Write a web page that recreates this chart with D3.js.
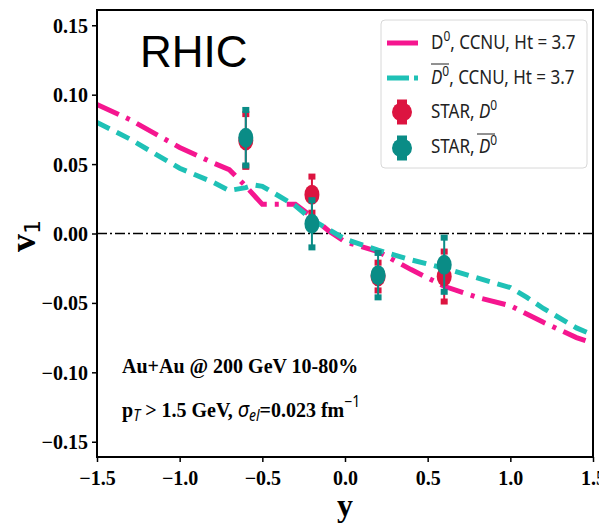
<!DOCTYPE html>
<html><head><meta charset="utf-8">
<script src="https://cdn.jsdelivr.net/npm/d3@7"></script>
<style>body{margin:0;background:#fff}svg{display:block}</style>
</head><body>
<svg id="c" width="599" height="526"></svg>
<script>
// ---- data ----
const xTicks = [-1.5,-1.0,-0.5,0.0,0.5,1.0,1.5];
const yTicks = [-0.15,-0.10,-0.05,0.00,0.05,0.10,0.15];
const d0ModelX = [-1.5,-1.3,-1.0,-0.8,-0.7,-0.6,-0.5,-0.4,-0.3,-0.2,-0.1,0.0,0.2,0.4,0.6,0.8,1.0,1.2,1.4,1.5];
const d0ModelV = [0.093,0.082,0.062,0.051,0.046,0.034,0.021,0.021,0.021,0.012,0.002,-0.006,-0.013,-0.026,-0.038,-0.046,-0.052,-0.064,-0.075,-0.079];
const d0barModelX = [-1.5,-1.3,-1.0,-0.8,-0.7,-0.6,-0.55,-0.5,-0.4,-0.3,-0.2,-0.1,0.0,0.2,0.4,0.6,0.8,1.0,1.1,1.2,1.4,1.5];
const d0barModelV = [0.080,0.068,0.047,0.037,0.031,0.033,0.035,0.034,0.027,0.020,0.010,0.003,-0.004,-0.012,-0.019,-0.025,-0.032,-0.039,-0.046,-0.054,-0.068,-0.073];
const starX = [-0.6,-0.2,0.2,0.6];
const starD0 = [0.067,0.028,-0.031,-0.031];
const starD0Err = [0.019,0.013,0.010,0.018];
const starD0bar = [0.069,0.007,-0.030,-0.0225];
const starD0barErr = [0.020,0.017,0.016,0.0195];

const pink = "#f5168f", teal = "#1fc1b6", red = "#dc1440", dteal = "#0a8c86";

const svg = d3.select("#c");
const L=97,R=593,T=10,B=457;
const x = d3.scaleLinear([-1.5,1.5],[L,R]);
const y = d3.scaleLinear([-0.161,0.161],[B,T]);
const serif = "'Liberation Serif','Times New Roman',serif";
const sans = "'Noto Sans','Open Sans',sans-serif";

// axes
const xa = svg.append("g").attr("transform",`translate(0,${B})`)
  .call(d3.axisBottom(x).tickValues(xTicks).tickSize(5).tickPadding(4)
    .tickFormat(d=>d3.format(".1f")(d).replace("-","\u2212")));
const ya = svg.append("g").attr("transform",`translate(${L},0)`)
  .call(d3.axisLeft(y).tickValues(yTicks).tickSize(5).tickPadding(4)
    .tickFormat(d=>d3.format(".2f")(d).replace("-","\u2212")));
[xa,ya].forEach(g=>{
  g.select(".domain").remove();
  g.selectAll("line").attr("stroke","#000").attr("stroke-width",1.5);
  g.selectAll("text").attr("font-family",serif).attr("font-weight","bold").attr("font-size",20).attr("fill","#000");
});
xa.selectAll("text").attr("dy","0.95em");
ya.selectAll("text").attr("dy","0.35em");

// zero line
svg.append("line").attr("x1",x(-1.5)).attr("x2",x(1.5)).attr("y1",y(0)).attr("y2",y(0))
  .attr("stroke","#000").attr("stroke-width",1.6).attr("stroke-dasharray","10,3,2,3");

svg.append("clipPath").attr("id","cp").append("rect")
  .attr("x",L).attr("y",T).attr("width",R-L).attr("height",B-T);

const line = d3.line().x(d=>x(d[0])).y(d=>y(d[1]));
const pg = svg.append("g").attr("clip-path","url(#cp)");
pg.append("path").datum(d0ModelX.map((v,i)=>[v,d0ModelV[i]])).attr("d",line)
  .attr("fill","none").attr("stroke",pink).attr("stroke-width",5).attr("stroke-dasharray","24,8,4,8");
pg.append("path").datum(d0barModelX.map((v,i)=>[v,d0barModelV[i]])).attr("d",line)
  .attr("fill","none").attr("stroke",teal).attr("stroke-width",5).attr("stroke-dasharray","14,8");

function drawPoints(vals, errs, col){
  const g = svg.append("g");
  starX.forEach((sx,i)=>{
    const cx=x(sx), cy=y(vals[i]), y1=y(vals[i]+errs[i]), y2=y(vals[i]-errs[i]);
    g.append("line").attr("x1",cx).attr("x2",cx).attr("y1",y1).attr("y2",y2).attr("stroke",col).attr("stroke-width",2);
    [y1,y2].forEach(yy=>g.append("rect").attr("x",cx-3.5).attr("y",yy-3).attr("width",7).attr("height",6).attr("fill",col));
    g.append("ellipse").attr("cx",cx).attr("cy",cy).attr("rx",7.5).attr("ry",10).attr("fill",col);
  });
}
drawPoints(starD0, starD0Err, red);
drawPoints(starD0bar, starD0barErr, dteal);

// frame
svg.append("rect").attr("x",L).attr("y",T).attr("width",R-L).attr("height",B-T)
  .attr("fill","none").attr("stroke","#000").attr("stroke-width",2);

// RHIC
svg.append("text").attr("x",140).attr("y",67).attr("font-family","'Liberation Sans',Arial,sans-serif")
  .attr("font-size",44).attr("fill","#000").text("RHIC");

// legend
const lg = svg.append("g");
lg.append("rect").attr("x",381).attr("y",20).attr("width",206).attr("height",148).attr("rx",4)
  .attr("fill","#fff").attr("stroke","#d8d8d8").attr("stroke-width",1);
lg.append("line").attr("x1",387).attr("x2",418).attr("y1",43).attr("y2",43)
  .attr("stroke",pink).attr("stroke-width",5);
lg.append("line").attr("x1",387).attr("x2",418).attr("y1",78).attr("y2",78)
  .attr("stroke",teal).attr("stroke-width",5).attr("stroke-dasharray","22,5,4,8");
[[112,red],[148,dteal]].forEach(([cy,col])=>{
  lg.append("rect").attr("x",397).attr("y",cy-12.5).attr("width",10).attr("height",25).attr("fill",col);
  lg.append("ellipse").attr("cx",402).attr("cy",cy).attr("rx",10).attr("ry",9.5).attr("fill",col);
});
function legText(yb, build){
  const t = lg.append("text").attr("transform",`translate(431,${yb}) scale(1,1.15)`)
    .attr("font-family",sans).attr("font-size",17).attr("fill","#222");
  build(t);
  return t;
}
legText(49,t=>{t.append("tspan").text("D");t.append("tspan").attr("font-size",12).attr("dy",-7).text("0");
  t.append("tspan").attr("dy",7).text(", CCNU, Ht = 3.7");});
legText(84,t=>{t.append("tspan").attr("font-style","italic").text("D");t.append("tspan").attr("font-size",12).attr("dy",-7).text("0");
  t.append("tspan").attr("dy",7).text(", CCNU, Ht = 3.7");});
lg.append("line").attr("x1",431).attr("x2",449).attr("y1",64).attr("y2",64).attr("stroke","#222").attr("stroke-width",1);
legText(118,t=>{t.append("tspan").text("STAR, ");t.append("tspan").attr("font-style","italic").text("D");
  t.append("tspan").attr("font-size",12).attr("dy",-7).text("0");});
legText(153,t=>{t.append("tspan").text("STAR, ");t.append("tspan").attr("font-style","italic").text("D");
  t.append("tspan").attr("font-size",12).attr("dy",-7).text("0");});
lg.append("line").attr("x1",477).attr("x2",495).attr("y1",134).attr("y2",134).attr("stroke","#222").attr("stroke-width",1);

// annotations
svg.append("text").attr("transform","translate(122,373) scale(1,1.1)")
  .attr("font-family",serif).attr("font-weight","bold").attr("font-size",20).attr("fill","#000")
  .text("Au+Au @ 200 GeV 10-80%");
const a2 = svg.append("text").attr("transform","translate(122,417) scale(1,1.1)")
  .attr("font-family",serif).attr("font-weight","bold").attr("font-size",20).attr("fill","#000");
a2.append("tspan").text("p");
a2.append("tspan").attr("font-family",sans).attr("font-style","italic").attr("font-weight","normal").attr("font-size",14).attr("dy",4).text("T");
a2.append("tspan").attr("dy",-4).text(" > 1.5 GeV, ");
a2.append("tspan").attr("font-family",sans).attr("font-style","italic").attr("font-weight","normal").text("σ");
a2.append("tspan").attr("font-family",sans).attr("font-style","italic").attr("font-weight","normal").attr("font-size",14).attr("dy",4).text("el");
a2.append("tspan").attr("dy",-4).text("=0.023 fm");
a2.append("tspan").attr("font-family",sans).attr("font-weight","normal").attr("font-size",14).attr("dy",-9).text("\u22121");

// axis titles
const yl = svg.append("text").attr("transform","translate(35,236) rotate(-90)").attr("text-anchor","middle")
  .attr("font-family",serif).attr("font-weight","bold").attr("font-size",36).attr("fill","#000");
yl.append("tspan").text("v");
yl.append("tspan").attr("font-family","'DejaVu Sans',sans-serif").attr("font-weight","normal").attr("font-size",22).attr("dy",5).text("1");
svg.append("text").attr("x",345).attr("y",516).attr("text-anchor","middle")
  .attr("font-family",serif).attr("font-weight","bold").attr("font-size",32).attr("fill","#000").text("y");
</script>
</body></html>
